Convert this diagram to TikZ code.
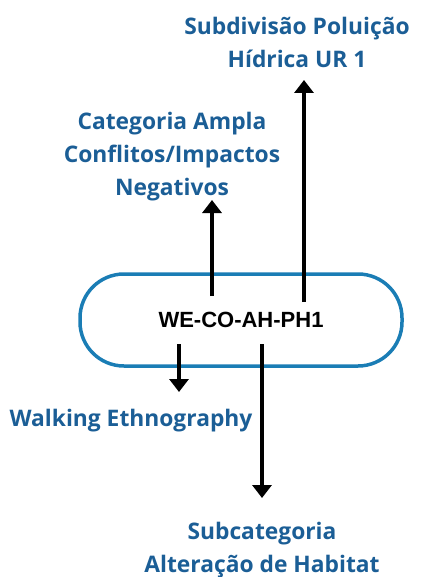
\documentclass[tikz,border=0pt]{standalone}
\usepackage{fontspec}
\setmainfont{Open Sans}
\newfontfamily\boxfont{Liberation Sans}
\usetikzlibrary{arrows.meta}
\definecolor{lbl}{HTML}{1B5E96}
\definecolor{capsule}{HTML}{1A7DB5}
\begin{document}
\begin{tikzpicture}[x=1pt,y=-1pt,
  lab/.style={text=lbl,font=\fontsize{22.8}{33}\selectfont\bfseries,align=center,inner sep=0pt},
  conn/.style={line width=3.5pt,-{Triangle[width=19pt,length=13pt]}}]
\useasboundingbox (0,0) rectangle (420,577);
\node[draw=capsule,line width=3.5pt,rounded corners=44pt,minimum width=322pt,minimum height=92pt,
  font=\boxfont\fontsize{22}{24}\selectfont\bfseries,inner sep=0pt] (box) at (241,320) {WE-CO-AH-PH1};
\node[lab] (t1) at (297,42) {Subdivisão Poluição\\Hídrica UR 1};
\node[lab] (t2) at (172,157) {Categoria Ampla\\Conflitos/Impactos\\Negativos};
\node[lab] (t3) at (131,421) {Walking Ethnography};
\node[lab] (t4) at (262,550) {Subcategoria\\Alteração de Habitat};
\coordinate (s1) at (304,302);
\coordinate (e1) at (304,80);
\coordinate (s2) at (212,296);
\coordinate (e2) at (212,200);
\coordinate (s3) at (179,344);
\coordinate (e3) at (179,392);
\coordinate (s4) at (262,344);
\coordinate (e4) at (262,498);
\draw[conn] (s1) -- (e1);
\draw[conn] (s2) -- (e2);
\draw[conn] (s3) -- (e3);
\draw[conn] (s4) -- (e4);
\end{tikzpicture}
\end{document}
